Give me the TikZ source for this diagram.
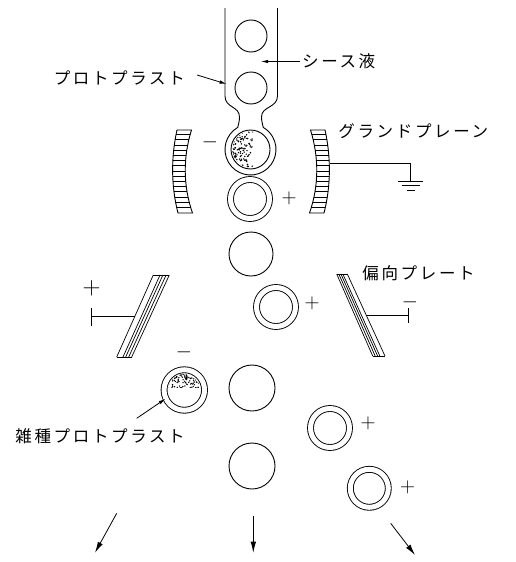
\documentclass[tikz,border=0pt]{standalone}
\usepackage{fontspec}
\newfontfamily\jp[LetterSpace=16]{Noto Sans CJK JP}
\usetikzlibrary{arrows.meta,calc}
\begin{document}
\begin{tikzpicture}[x=1pt,y=-1pt,line width=0.9pt,
  cell/.style={circle,draw,inner sep=0pt,minimum size=#1},
  ring/.style={circle,draw,double,double distance=5pt,inner sep=0pt,minimum size=#1},
  jlabel/.style={font=\jp\fontsize{16.5}{18}\selectfont,inner sep=0pt,anchor=west},
  sign/.style={font=\fontsize{20}{22}\selectfont,inner sep=0pt},
  bigsign/.style={font=\fontsize{24}{26}\selectfont,inner sep=0pt},
  pointer/.style={-{Latex[length=7pt,width=3.5pt]},line width=0.8pt},
  flow/.style={-{Latex[length=11pt,width=5.5pt]},line width=0.8pt},
  hatch/.style={line width=0.6pt},
  dot/.style={fill=black,draw=none}]

\useasboundingbox (0,0) rectangle (515,562);

% ---- nozzle with sheath stream and forming droplet ----
\draw (225,8) -- (225,96)
  .. controls (225,108) and (239.5,106) .. (239.5,117)
  .. controls (239.5,121) and (238.5,124) .. (237.75,127.4)
  arc[start angle=240,end angle=-60,radius=25.5]
  .. controls (262.5,124) and (261.5,121) .. (261.5,117)
  .. controls (261.5,106) and (277.5,108) .. (277.5,96) -- (277.5,8);

\node[cell=32pt] (p1) at (251,36) {};
\node[cell=32pt] (p2) at (251,88) {};
\node[cell=39pt] (pd) at (250.5,149.5) {};
\pgfmathsetseed{11}
\begin{scope}
  \clip (250.5,149.5) circle[radius=18];
  \clip (230,128) rectangle (254,172);
  \foreach \i in {1,...,150}{
    \pgfmathsetmacro\px{232+21*rnd^1.6}
    \pgfmathsetmacro\py{130+38*rnd}
    \fill[dot] (\px,\py) circle[radius=0.8];
  }
\end{scope}
\node[sign] (mdrop) at (210,142.5) {$-$};

% ---- charged droplets below the nozzle ----
\node[ring=39pt] (r1) at (250,199) {};
\node[sign] (pr1) at (289,198) {$+$};
\node[cell=44pt] (c1) at (251,254) {};
\node[ring=39pt] (r2) at (276,307) {};
\node[sign] (pr2) at (312,303) {$+$};

\node[ring=40.5pt] (hy) at (184.3,390) {};
\begin{scope}
  \clip (184.3,390) circle[radius=15.8];
  \clip (160,370) rectangle (210,387);
  \foreach \i in {1,...,150}{
    \pgfmathsetmacro\px{168+33*rnd}
    \pgfmathsetmacro\py{373+15*rnd^1.7}
    \fill[dot] (\px,\py) circle[radius=0.75];
  }
\end{scope}
\node[sign] (mhy) at (184,352) {$-$};

\node[cell=46pt] (c2) at (252,388) {};
\node[cell=46pt] (c3) at (252,466) {};
\node[ring=39pt] (r3) at (330,428) {};
\node[sign] (pr3) at (368,423.3) {$+$};
\node[ring=38pt] (r4) at (369.3,488.3) {};
\node[sign] (pr4) at (407.5,487.7) {$+$};

% ---- ground planes (hatched crescents) ----
\def\leftplane{(191.5,130) .. controls (183,157) and (183,186) .. (192.5,213)
  -- (178,213) .. controls (171,186) and (171,157) .. (177,130) -- cycle}
\def\rightplane{(310.5,130) .. controls (319,157) and (319,186) .. (309.5,213)
  -- (324,213) .. controls (331,186) and (331,157) .. (325,130) -- cycle}
\begin{scope}
  \clip \leftplane;
  \foreach \yy in {134.5,139.7,...,211}{\draw[hatch] (165,\yy) -- (200,\yy);}
\end{scope}
\draw \leftplane;
\begin{scope}
  \clip \rightplane;
  \foreach \yy in {134.5,139.7,...,211}{\draw[hatch] (300,\yy) -- (340,\yy);}
\end{scope}
\draw \rightplane;

\coordinate (gpout) at (330,163.5);
\coordinate (gbend) at (410.5,163.5);
\coordinate (gnd) at (410.5,181);
\draw[line width=0.7pt] (gpout) -- (gbend) -- (gnd);
\draw[line width=0.7pt] (398,181) -- (423,181) (401.5,185.5) -- (419.5,185.5) (406.5,190) -- (414.5,190);

% ---- deflection plates ----
\coordinate (lTL) at (153.3,275); \coordinate (lTR) at (169.3,275);
\coordinate (lBL) at (116.7,357); \coordinate (lBR) at (131.7,357);
\foreach \f in {0,0.42,0.6,0.8,1}{
  \draw[line width=0.7pt] ($(lTL)!\f!(lTR)$) -- ($(lBL)!\f!(lBR)$);}
\draw[line width=0.7pt] (lTL) -- (lTR) (lBL) -- (lBR);

\coordinate (rTL) at (336.7,274); \coordinate (rTR) at (347.3,274);
\coordinate (rBL) at (372.7,356); \coordinate (rBR) at (385,356);
\foreach \f in {0,0.2,0.4,0.58,1}{
  \draw[line width=0.7pt] ($(rTL)!\f!(rTR)$) -- ($(rBL)!\f!(rBR)$);}
\draw[line width=0.7pt] (rTL) -- (rTR) (rBL) -- (rBR);

\coordinate (lwire) at (134.7,316.7);
\coordinate (lterm) at (91.7,316.7);
\draw[line width=0.7pt] (lwire) -- (lterm) (91.7,308) -- (91.7,326);
\node[bigsign] (plus) at (91.7,288.3) {$+$};

\coordinate (rwire) at (366.2,315);
\coordinate (rterm) at (408.3,315);
\draw[line width=0.7pt] (rwire) -- (rterm) (408.3,308) -- (408.3,323);
\node[sign] (minus) at (410,302) {$-$};

% ---- labels ----
\node[jlabel] (sheath) at (301.7,61.5) {シース液};
\coordinate (sheathtip) at (261,61.5);
\draw[pointer] ([xshift=-2pt]sheath.west) -- (sheathtip);

\node[jlabel] (proto) at (53.3,78) {プロトプラスト};
\coordinate (prototail) at (197,75);
\coordinate (prototip) at (226.5,84);
\draw[pointer] (prototail) -- (prototip);

\node[jlabel] (ground) at (338,131.5) {グランドプレーン};
\node[jlabel] (defl) at (362,273) {偏向プレート};

\node[jlabel] (hybrid) at (15,436) {雑種プロトプラスト};
\coordinate (hybtail) at (136.7,418.3);
\draw[pointer] (hybtail) -- (hy.205);

% ---- sorted streams ----
\coordinate (la) at (116.7,513.3); \coordinate (lb) at (95,552.7);
\coordinate (ma) at (253.3,516);   \coordinate (mb) at (253.3,552.7);
\coordinate (ra) at (390.7,523.3); \coordinate (rb) at (415,555);
\draw[flow] (la) -- (lb);
\draw[flow] (ma) -- (mb);
\draw[flow] (ra) -- (rb);
\end{tikzpicture}
\end{document}
